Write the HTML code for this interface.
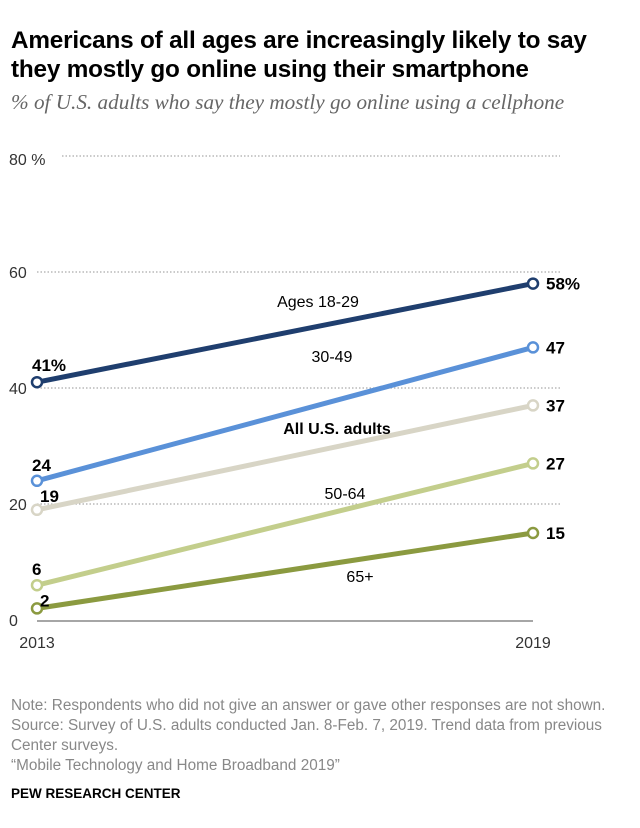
<!DOCTYPE html>
<html><head><meta charset="utf-8">
<style>
body{margin:0;background:#fff;width:640px;height:828px;overflow:hidden;font-family:"Liberation Sans",sans-serif;}
.t{position:absolute;left:11px;top:26px;font-size:24.3px;font-weight:bold;line-height:29px;color:#000;letter-spacing:-0.2px;white-space:nowrap}
.s{position:absolute;left:11px;top:90px;font-family:"Liberation Serif",serif;font-style:italic;font-size:21.2px;color:#666;white-space:nowrap}
.n{position:absolute;left:11px;top:696px;font-size:15.3px;line-height:20px;color:#888;white-space:nowrap}
.p{position:absolute;left:11px;top:786px;font-size:13.5px;font-weight:bold;color:#000}
</style></head><body>
<div class="t">Americans of all ages are increasingly likely to say<br>they mostly go online using their smartphone</div>
<div class="s">% of U.S. adults who say they mostly go online using a cellphone</div>
<svg id="c" width="640" height="828" style="position:absolute;left:0;top:0"></svg>
<div class="n">Note: Respondents who did not give an answer or gave other responses are not shown.<br>Source: Survey of U.S. adults conducted Jan. 8-Feb. 7, 2019. Trend data from previous<br>Center surveys.<br>“Mobile Technology and Home Broadband 2019”</div>
<div class="p">PEW RESEARCH CENTER</div>
<script>
const years=[2013,2019];
const names=["Ages 18-29","30-49","All U.S. adults","50-64","65+"];
const v1829=[41,58];
const v3049=[24,47];
const vAll=[19,37];
const v5064=[6,27];
const v65=[2,15];
const yTicks=[0,20,40,60,80];
const series=[v1829,v3049,vAll,v5064,v65];
const colors=["#1f3e6e","#5a91d8","#d8d5c6","#c3ce8c","#8b9a40"];
const labelPos=[[318,307,false],[332,362,false],[337,434,true],[345,499,false],[360,582,false]];
const NS="http://www.w3.org/2000/svg",svg=document.getElementById("c");
const X=y=>37+(y-2013)/(2019-2013)*496;
const Y=v=>620-v*5.8;
function mk(t,a,txt){const e=document.createElementNS(NS,t);for(const k in a)e.setAttribute(k,a[k]);if(txt!==undefined)e.textContent=txt;svg.appendChild(e);return e;}
yTicks.forEach(t=>{
 if(t>0){const g=mk("line",{x1:t===80?62:37,x2:560,y1:Y(t),y2:Y(t),stroke:"#aaa","stroke-width":1.2,"stroke-dasharray":"1.5,2"});
 
 }
 const l=mk("text",{x:9,y:Y(t)+6+(t===80?3:0),"font-size":16,fill:"#333"},t===80?"80 %":String(t));
 
 
});
const ax=mk("line",{x1:37,x2:533,y1:Y(0)+1,y2:Y(0)+1,stroke:"#888","stroke-width":1.5});


years.forEach((yr,i)=>{const t=mk("text",{x:X(yr),y:648,"font-size":16,fill:"#333","text-anchor":"middle"},String(yr));
 
 });
const dy=[11,10,8,10,2];
series.forEach((s,i)=>{
 const ln=mk("line",{x1:X(years[0]),y1:Y(s[0]),x2:X(years[1]),y2:Y(s[1]),stroke:colors[i],"stroke-width":5});
 
 
 s.forEach((v,j)=>{
  const c=mk("circle",{cx:X(years[j]),cy:Y(v),r:5,fill:"#fff",stroke:colors[i],"stroke-width":2.5});
  
  
  const txt=(i===0?v+"%":String(v));
  const lb=j===0?mk("text",{x:X(years[j])-5+(i===2?8:0)+(i===4?8:0),y:Y(v)-dy[i],"font-size":17,"font-weight":"bold"},txt)
   :mk("text",{x:X(years[j])+13,y:Y(v)+6,"font-size":17,"font-weight":"bold"},txt);
  
  
 });
 const sl=mk("text",{x:labelPos[i][0],y:labelPos[i][1],"font-size":16,"font-weight":labelPos[i][2]?"bold":"normal","text-anchor":"middle"},names[i]);
 
 
});
</script>
</body></html>
